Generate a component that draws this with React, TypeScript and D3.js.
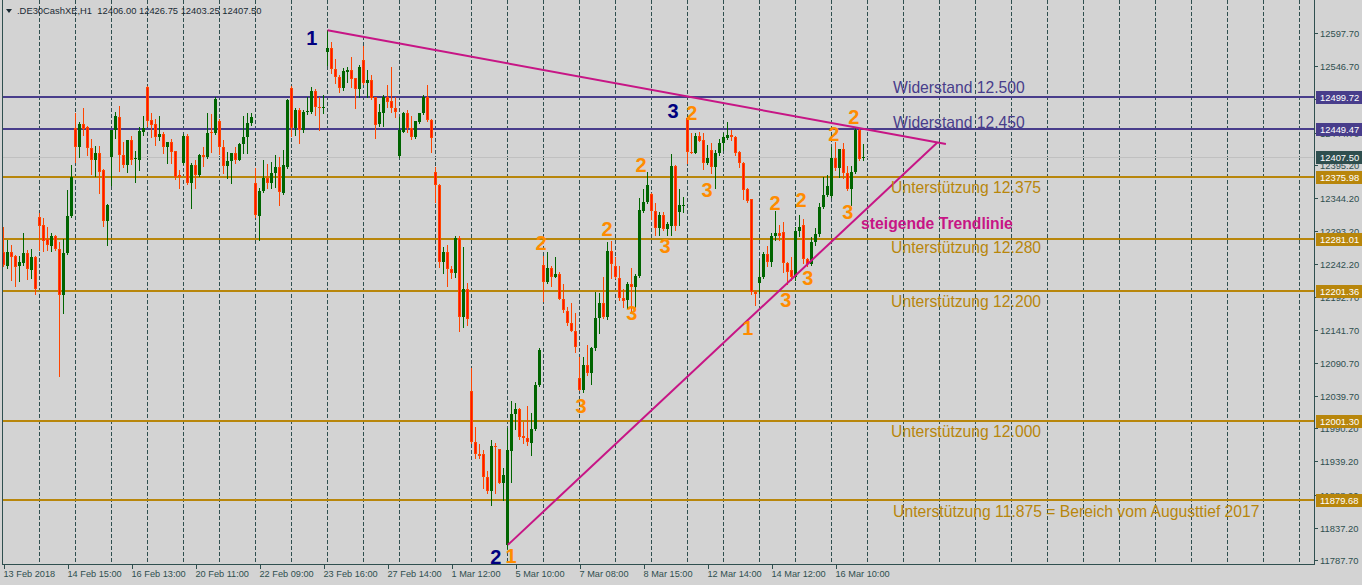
import { useEffect, useRef } from "react";
import * as d3 from "d3";

const SYMBOL = ".DE30CashXE,H1";

// H1 candles, [open, high, low, close]
const ohlc: [number, number, number, number][] = [
  [12261, 12300, 12240, 12241], [12240, 12280, 12237, 12261], [12261, 12272, 12218, 12253], [12255, 12257, 12209, 12238],
  [12240, 12255, 12217, 12246], [12244, 12290, 12241, 12260], [12260, 12264, 12220, 12235], [12233, 12266, 12221, 12253],
  [12253, 12255, 12196, 12204], [12315, 12321, 12264, 12301], [12303, 12313, 12263, 12278], [12281, 12300, 12264, 12272],
  [12270, 12290, 12263, 12286], [12286, 12287, 12264, 12266], [12266, 12276, 12071, 12195], [12195, 12281, 12167, 12260],
  [12260, 12356, 12258, 12316], [12316, 12395, 12315, 12376], [12452, 12475, 12399, 12422], [12422, 12461, 12407, 12458],
  [12458, 12482, 12441, 12450], [12453, 12455, 12410, 12421], [12421, 12435, 12381, 12403], [12403, 12424, 12378, 12413],
  [12413, 12424, 12352, 12384], [12387, 12389, 12301, 12309], [12309, 12335, 12272, 12333], [12407, 12449, 12364, 12448],
  [12449, 12476, 12436, 12470], [12468, 12485, 12385, 12410], [12410, 12430, 12392, 12395], [12395, 12432, 12384, 12433],
  [12433, 12439, 12396, 12403], [12404, 12416, 12369, 12405], [12403, 12453, 12387, 12447], [12446, 12470, 12441, 12452],
  [12515, 12516, 12455, 12462], [12464, 12475, 12438, 12456], [12458, 12466, 12426, 12438], [12438, 12470, 12433, 12443],
  [12443, 12446, 12413, 12422], [12422, 12430, 12398, 12430], [12430, 12435, 12398, 12415], [12416, 12417, 12373, 12376],
  [12379, 12387, 12360, 12376], [12398, 12443, 12397, 12440], [12440, 12443, 12366, 12367], [12367, 12398, 12329, 12395],
  [12395, 12403, 12360, 12379], [12379, 12411, 12378, 12410], [12410, 12422, 12394, 12407], [12407, 12475, 12406, 12444],
  [12446, 12473, 12415, 12445], [12444, 12499, 12443, 12496], [12462, 12466, 12412, 12422], [12422, 12433, 12383, 12394],
  [12393, 12415, 12375, 12401], [12401, 12414, 12367, 12413], [12413, 12422, 12398, 12403], [12403, 12428, 12402, 12427],
  [12427, 12470, 12413, 12438], [12438, 12475, 12413, 12459], [12459, 12475, 12457, 12469], [12367, 12390, 12315, 12318],
  [12316, 12360, 12280, 12355], [12355, 12403, 12353, 12375], [12375, 12397, 12360, 12367], [12367, 12400, 12360, 12383],
  [12382, 12410, 12361, 12392], [12392, 12407, 12333, 12353], [12352, 12418, 12351, 12395], [12392, 12496, 12390, 12495],
  [12513, 12516, 12440, 12452], [12452, 12482, 12441, 12479], [12479, 12482, 12429, 12449], [12449, 12479, 12446, 12476],
  [12476, 12499, 12473, 12478], [12476, 12515, 12475, 12509], [12508, 12512, 12472, 12484], [12484, 12499, 12449, 12483],
  [12484, 12502, 12475, 12484], [12569, 12602, 12549, 12575], [12575, 12584, 12536, 12542], [12542, 12558, 12521, 12530],
  [12530, 12533, 12507, 12513], [12513, 12544, 12510, 12539], [12538, 12545, 12522, 12541], [12541, 12561, 12515, 12527],
  [12528, 12529, 12482, 12512], [12512, 12549, 12499, 12545], [12556, 12578, 12520, 12521], [12521, 12541, 12499, 12525],
  [12525, 12533, 12496, 12498], [12499, 12500, 12436, 12456], [12458, 12489, 12454, 12476], [12475, 12502, 12454, 12499],
  [12499, 12518, 12484, 12492], [12493, 12545, 12476, 12482], [12482, 12499, 12469, 12476], [12409, 12469, 12407, 12448],
  [12446, 12476, 12445, 12475], [12475, 12479, 12446, 12452], [12452, 12470, 12435, 12438], [12438, 12463, 12437, 12462],
  [12461, 12475, 12460, 12475], [12475, 12502, 12473, 12499], [12499, 12518, 12462, 12464], [12464, 12465, 12415, 12436],
  [12384, 12392, 12338, 12364], [12364, 12365, 12238, 12246], [12246, 12269, 12229, 12261], [12261, 12272, 12209, 12235],
  [12235, 12240, 12221, 12229], [12229, 12286, 12223, 12283], [12283, 12286, 12139, 12161], [12161, 12269, 12146, 12204],
  [12204, 12213, 12149, 12158], [12047, 12083, 11968, 11969], [11969, 11992, 11944, 11951], [11951, 11966, 11944, 11948],
  [11951, 11957, 11898, 11916], [11916, 11924, 11891, 11893], [11893, 11972, 11872, 11963], [11963, 11967, 11891, 11961],
  [11958, 11959, 11906, 11906], [11906, 11929, 11880, 11918], [11811, 11991, 11806, 11957], [11956, 12032, 11908, 12012],
  [12012, 12029, 11989, 12020], [12020, 12021, 11974, 11977], [11978, 12000, 11968, 11975], [11975, 12024, 11965, 11969],
  [11968, 12014, 11949, 11989], [11989, 12061, 11988, 12056], [12056, 12113, 12055, 12111], [12241, 12255, 12186, 12215],
  [12215, 12261, 12214, 12237], [12236, 12240, 12209, 12223], [12223, 12253, 12222, 12227], [12227, 12230, 12189, 12189],
  [12189, 12212, 12169, 12172], [12170, 12177, 12149, 12152], [12152, 12183, 12139, 12140], [12140, 12167, 12108, 12115],
  [12068, 12100, 12049, 12049], [12049, 12100, 12046, 12088], [12088, 12118, 12072, 12075], [12075, 12115, 12058, 12113],
  [12113, 12200, 12111, 12159], [12159, 12198, 12137, 12183], [12183, 12223, 12160, 12161], [12161, 12276, 12158, 12263],
  [12263, 12278, 12221, 12243], [12240, 12253, 12221, 12223], [12221, 12240, 12187, 12190], [12190, 12204, 12177, 12186],
  [12187, 12215, 12175, 12212], [12212, 12237, 12167, 12207], [12207, 12227, 12177, 12224], [12224, 12344, 12223, 12326],
  [12324, 12358, 12323, 12338], [12338, 12384, 12337, 12364], [12350, 12352, 12312, 12324], [12324, 12336, 12287, 12298],
  [12298, 12323, 12287, 12318], [12318, 12323, 12295, 12296], [12296, 12307, 12287, 12304], [12301, 12412, 12287, 12393],
  [12393, 12395, 12295, 12301], [12323, 12358, 12303, 12334], [12333, 12346, 12323, 12334], [12467, 12469, 12398, 12415],
  [12415, 12444, 12413, 12414], [12414, 12444, 12413, 12440], [12440, 12446, 12431, 12432], [12433, 12444, 12389, 12398],
  [12398, 12426, 12397, 12406], [12418, 12429, 12383, 12391], [12391, 12418, 12360, 12413], [12413, 12435, 12410, 12429],
  [12428, 12444, 12418, 12438], [12437, 12461, 12435, 12441], [12441, 12449, 12434, 12438], [12438, 12439, 12410, 12413],
  [12415, 12416, 12392, 12398], [12398, 12399, 12343, 12356], [12358, 12359, 12338, 12340], [12343, 12343, 12196, 12200],
  [12200, 12201, 12180, 12196], [12213, 12249, 12198, 12222], [12222, 12261, 12221, 12258], [12258, 12270, 12240, 12245],
  [12245, 12290, 12240, 12285], [12285, 12324, 12279, 12290], [12290, 12302, 12280, 12285], [12292, 12307, 12230, 12244],
  [12244, 12245, 12212, 12230], [12233, 12253, 12218, 12222], [12222, 12300, 12218, 12293], [12293, 12318, 12285, 12300],
  [12303, 12312, 12244, 12250], [12250, 12252, 12240, 12242], [12242, 12284, 12241, 12277], [12277, 12298, 12272, 12289],
  [12289, 12336, 12285, 12331], [12331, 12377, 12328, 12349], [12349, 12379, 12347, 12362], [12347, 12422, 12345, 12406],
  [12406, 12430, 12387, 12390], [12390, 12419, 12376, 12419], [12419, 12429, 12375, 12383], [12382, 12393, 12356, 12358],
  [12358, 12393, 12333, 12384], [12384, 12452, 12382, 12449], [12449, 12452, 12402, 12404], [12406, 12426.75, 12403.25, 12407.5],
];

const timeLabels = [
  "13 Feb 2018", "14 Feb 15:00", "16 Feb 13:00", "20 Feb 11:00", "22 Feb 09:00", "23 Feb 16:00", "27 Feb 14:00",
  "1 Mar 12:00", "5 Mar 10:00", "7 Mar 08:00", "8 Mar 15:00", "12 Mar 14:00", "14 Mar 12:00", "16 Mar 10:00",
];
const TIME_STEP = 16; // bars per time label
const GRID_STEP = 9; // bars per dashed grid line

const priceTicks = [
  12597.7, 12546.7, 12495.7, 12444.7, 12395.2, 12344.2, 12293.2, 12242.2, 12192.7,
  12141.7, 12090.7, 12039.7, 11990.2, 11939.2, 11888.2, 11837.2, 11787.7,
];

const resistanceLevels = [12499.72, 12449.47];
const supportLevels = [12375.98, 12281.01, 12201.36, 12001.3, 11879.68];

// [bar, price, text] — price is the vertical centre of the text
const resistanceTexts: [number, number, string][] = [
  [222.4, 12514.7, "Widerstand 12.500"],
  [222.4, 12460.9, "Widerstand 12.450"],
];
const supportTexts: [number, number, string][] = [
  [221.9, 12361.0, "Unterstützung 12.375"],
  [221.9, 12268.8, "Unterstützung 12.280"],
  [221.9, 12185.8, "Unterstützung 12.200"],
  [221.9, 11985.9, "Unterstützung 12.000"],
  [222.4, 11863.0, "Unterstützung 11.875 = Bereich vom Augusttief 2017"],
];

// trend lines, [bar, price]
const trendDown: [number, number][] = [[81, 12602], [235.6, 12427]];
const trendUp: [number, number][] = [[126.1, 11811], [233.4, 12429]];
const trendText: [number, number, string] = [214.4, 12305.7, "steigende Trendlinie"];

// wave counts [bar, price, label]
const orangeWaves: [number, number, string][] = [
  [172.1, 12474.7, "2"], [175.9, 12356.4, "3"], [159.4, 12394.8, "2"], [165.4, 12270.3, "3"],
  [134.4, 12274.9, "2"], [150.9, 12296.4, "2"], [157.1, 12167.3, "3"], [144.4, 12024.4, "3"],
  [126.9, 11793.8, "1"], [186.1, 12144.3, "1"], [195.6, 12187.3, "3"], [201.1, 12221.1, "3"],
  [192.9, 12336.4, "2"], [199.4, 12341.0, "2"], [207.6, 12442.5, "2"], [212.6, 12468.6, "2"],
  [211.1, 12322.6, "3"],
];
const navyWaves: [number, number, string][] = [
  [77.1, 12590.0, "1"], [167.4, 12477.8, "3"], [123.1, 11792.3, "2"],
];

const W = 1362;
const H = 585;
const PLOT = { left: 3, right: 1314, bottom: 564 };
const FONT = "'Liberation Sans', Arial, sans-serif";
const BG = "#d3d3d3";
const FG = "#2f4f4f";
const BULL = "#006400";
const BEAR = "#ff4500";
const BEAR_CORE = "#ff1200";
const RES_COLOR = "#483d8b";
const SUP_COLOR = "#b8860b";
const TREND = "#c71585";
const WAVE_ORANGE = "#ff8c00";
const WAVE_NAVY = "#000080";

export default function App() {
  const svgRef = useRef<SVGSVGElement>(null);

  useEffect(() => {
    const svg = d3.select(svgRef.current);
    svg.selectAll("*").remove();
    svg.attr("width", W).attr("height", H).attr("viewBox", `0 0 ${W} ${H}`);

    svg.append("rect").attr("width", W).attr("height", H).attr("fill", BG);

    const x = d3.scaleLinear().domain([0, 1]).range([3.5, 7.5]);
    const y = d3.scaleLinear().domain([11787.7, 12597.7]).range([560, 33]);

    svg.append("defs").append("clipPath").attr("id", "plot-clip")
      .append("rect").attr("x", PLOT.left).attr("y", 0)
      .attr("width", PLOT.right - PLOT.left).attr("height", PLOT.bottom);

    const g = svg.append("g").attr("clip-path", "url(#plot-clip)");

    // dashed vertical grid
    const gridBars = d3.range(GRID_STEP, 330, GRID_STEP).filter((b) => x(b) < PLOT.right);
    g.selectAll("line.grid").data(gridBars).enter().append("line")
      .attr("x1", (d) => x(d)).attr("x2", (d) => x(d))
      .attr("y1", 0).attr("y2", PLOT.bottom)
      .attr("stroke", FG).attr("stroke-width", 1)
      .attr("stroke-dasharray", "4,2");

    // bid line
    const last = ohlc[ohlc.length - 1];
    g.append("line")
      .attr("x1", PLOT.left).attr("x2", PLOT.right)
      .attr("y1", Math.round(y(last[3])) + 0.5).attr("y2", Math.round(y(last[3])) + 0.5)
      .attr("stroke", "#c0c0c0").attr("stroke-width", 1);

    // horizontal levels
    const levels = [
      ...resistanceLevels.map((v) => ({ v, c: RES_COLOR })),
      ...supportLevels.map((v) => ({ v, c: SUP_COLOR })),
    ];
    levels.forEach((l) => {
      const yy = Math.round(y(l.v));
      g.append("rect")
        .attr("x", PLOT.left).attr("y", yy - 1)
        .attr("width", PLOT.right - PLOT.left).attr("height", 2)
        .attr("fill", l.c);
    });

    // candles
    ohlc.forEach(([o, h, l, c], i) => {
      const cx = x(i);
      const up = c >= o;
      const top = Math.round(y(Math.max(o, c)));
      const bot = Math.round(y(Math.min(o, c)));
      g.append("line")
        .attr("x1", cx).attr("x2", cx)
        .attr("y1", Math.round(y(h))).attr("y2", Math.round(y(l)) + 1)
        .attr("stroke", up ? BULL : BEAR).attr("stroke-width", 1);
      g.append("rect")
        .attr("x", cx - 1.5).attr("y", top)
        .attr("width", 3).attr("height", Math.max(1, bot - top))
        .attr("fill", up ? BULL : BEAR);
      if (!up && bot - top > 2) {
        g.append("rect")
          .attr("x", cx - 0.5).attr("y", top + 1)
          .attr("width", 1).attr("height", bot - top - 2)
          .attr("fill", BEAR_CORE);
      }
    });

    // trend lines
    [trendDown, trendUp].forEach((t) => {
      g.append("line")
        .attr("x1", x(t[0][0])).attr("y1", y(t[0][1]))
        .attr("x2", x(t[1][0])).attr("y2", y(t[1][1]))
        .attr("stroke", TREND).attr("stroke-width", 2);
    });

    // level texts
    const txt = (arr: [number, number, string][], color: string) => {
      arr.forEach(([b, p, s]) => {
        g.append("text")
          .attr("x", x(b)).attr("y", y(p)).attr("dy", "0.36em")
          .attr("font-family", FONT).attr("font-size", 15.7)
          .attr("fill", color).text(s);
      });
    };
    txt(resistanceTexts, RES_COLOR);
    txt(supportTexts, SUP_COLOR);

    g.append("text")
      .attr("x", x(trendText[0])).attr("y", y(trendText[1])).attr("dy", "0.36em")
      .attr("font-family", FONT).attr("font-size", 15.7).attr("font-weight", "bold")
      .attr("fill", TREND).text(trendText[2]);

    // wave counts
    const waves = (arr: [number, number, string][], color: string) => {
      arr.forEach(([b, p, s]) => {
        g.append("text")
          .attr("x", x(b)).attr("y", y(p)).attr("dy", "0.36em")
          .attr("text-anchor", "middle")
          .attr("font-family", FONT).attr("font-size", 20).attr("font-weight", "bold")
          .attr("fill", color).text(s);
      });
    };
    waves(orangeWaves, WAVE_ORANGE);
    waves(navyWaves, WAVE_NAVY);

    // frame
    svg.append("line").attr("x1", PLOT.left - 0.5).attr("x2", PLOT.left - 0.5)
      .attr("y1", 0).attr("y2", PLOT.bottom).attr("stroke", FG);
    svg.append("line").attr("x1", PLOT.right + 0.5).attr("x2", PLOT.right + 0.5)
      .attr("y1", 0).attr("y2", PLOT.bottom + 1).attr("stroke", FG);
    svg.append("line").attr("x1", PLOT.left - 1).attr("x2", PLOT.right + 1)
      .attr("y1", PLOT.bottom + 0.5).attr("y2", PLOT.bottom + 0.5).attr("stroke", FG);

    // price axis
    priceTicks.forEach((v) => {
      const yy = Math.round(y(v)) + 0.5;
      svg.append("line").attr("x1", PLOT.right + 1).attr("x2", PLOT.right + 4)
        .attr("y1", yy).attr("y2", yy).attr("stroke", FG);
      svg.append("text")
        .attr("x", PLOT.right + 6).attr("y", yy).attr("dy", "0.35em")
        .attr("font-family", FONT).attr("font-size", 9.4)
        .attr("fill", FG).text(v.toFixed(2));
    });

    // price label boxes (they cover the axis labels underneath, as in the terminal)
    const boxes = [
      ...resistanceLevels.map((v) => ({ v, c: RES_COLOR })),
      ...supportLevels.map((v) => ({ v, c: SUP_COLOR })),
      { v: last[3], c: FG },
    ];
    boxes.forEach((bx) => {
      const yy = Math.round(y(bx.v));
      svg.append("rect")
        .attr("x", PLOT.right + 2).attr("y", yy - 6)
        .attr("width", W - PLOT.right - 2).attr("height", 13)
        .attr("fill", bx.c);
      svg.append("text")
        .attr("x", PLOT.right + 6).attr("y", yy + 0.5).attr("dy", "0.35em")
        .attr("font-family", FONT).attr("font-size", 9.4)
        .attr("fill", "#ffffff").text(bx.v.toFixed(2));
    });

    // time axis
    timeLabels.forEach((s, k) => {
      const xx = Math.round(x(k * TIME_STEP)) + 0.5;
      svg.append("line").attr("x1", xx).attr("x2", xx)
        .attr("y1", PLOT.bottom + 1).attr("y2", PLOT.bottom + 5).attr("stroke", FG);
      svg.append("text")
        .attr("x", xx - 1).attr("y", PLOT.bottom + 13)
        .attr("font-family", FONT).attr("font-size", 9.2)
        .attr("fill", FG).text(s);
    });

    // header
    svg.append("path").attr("d", "M6,9 L12,9 L9,13 Z").attr("fill", "#1a2a33");
    svg.append("text")
      .attr("x", 17).attr("y", 14)
      .attr("font-family", FONT).attr("font-size", 9.4)
      .attr("fill", "#1a2a33")
      .attr("xml:space", "preserve")
      .style("white-space", "pre")
      .text(`${SYMBOL}  ${last.map((v) => v.toFixed(2)).join(" ")}`);
  }, []);

  return (
    <div style={{ position: "absolute", left: 0, top: 0 }}>
      <svg ref={svgRef} style={{ display: "block" }} />
    </div>
  );
}
